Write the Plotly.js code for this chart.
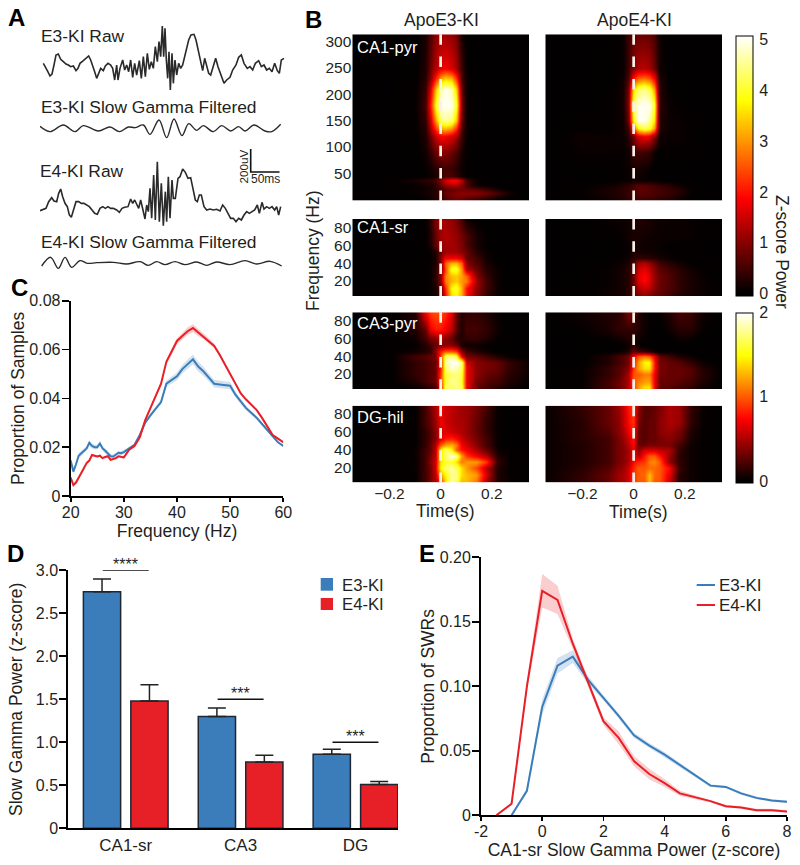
<!DOCTYPE html>
<html><head><meta charset="utf-8">
<script src="https://cdn.plot.ly/plotly-3.0.1.min.js"></script>
<style>html,body{margin:0;padding:0;background:#fff}</style></head>
<body><div id="chart" style="width:800px;height:865px"></div>
<script>
// Panel A: samples and amplitudes (arbitrary ADC counts)
const e3RawT=[130,136,142,150,156,162,168,175,182,190,198,205,212,220,228,234,240,250,258,266,272,278,284,290,296,302,310,316,324,332,338,344,350,354,360,368,374,380,386,392,398,404,410,418,424,430,436,442,448,454,460,466,472,477,482,487,491,495,499,503,507,511,516,520,525,530,536,542,548,554,560,566,573,582,588,595,602,608,614,620,626,632,640,647,654,662,672,680,690,698,708,716,724,732,742,750,758,766,776,784,792,800,808,816,824,832,838,844,852];
const e3RawV=[0,-10,-22,-38,-32,-5,25,28,12,5,-2,-5,-10,-8,-22,-15,0,8,15,22,10,-5,-25,-45,-32,-15,-22,-8,0,-5,-15,-50,-5,-50,-15,10,-20,-5,-25,10,-42,0,-35,8,-45,20,-40,30,-18,5,-15,50,5,65,20,112,20,105,10,-45,35,-80,30,-60,10,-35,0,-15,-5,20,40,70,85,87,70,40,5,-22,15,-5,-30,-35,-5,15,-10,-35,-60,-50,-42,-20,-5,18,25,0,-15,-10,-20,0,8,-10,-5,-20,-15,-25,0,-22,-30,10,15];
const e3FiltT=[120,150,190,225,250,295,330,358,385,405,430,450,477,500,522,546,566,590,610,640,665,692,716,735,762,795,815,842];
const e3FiltV=[6,-10,10,-10,8,-8,4,-10,4,2,10,-18,25,-28,28,-22,14,-6,8,-10,8,-8,5,-8,10,-8,-10,12];
const e4RawT=[120,130,138,146,155,162,170,176,182,188,195,202,208,214,220,228,236,244,252,260,268,276,284,292,300,308,316,324,332,340,350,358,366,374,384,392,398,404,410,416,422,428,435,440,445,450,455,461,466,472,478,484,490,496,500,505,510,516,520,526,534,540,548,556,564,572,578,586,592,598,604,612,620,630,640,650,660,668,676,684,692,700,708,716,724,732,740,748,756,764,772,778,786,792,800,808,816,824,830,836,842];
const e4RawV=[-7,-3,0,20,32,22,20,45,58,35,15,5,-20,-27,-5,20,20,15,15,10,5,-5,-15,-18,0,5,0,5,0,0,-5,-12,0,3,5,28,15,25,10,0,25,0,-32,10,-10,60,-30,100,-35,140,-40,75,-52,50,-40,95,-30,85,30,30,90,95,118,108,90,92,60,25,20,40,40,5,-5,-2,-5,-3,-8,10,0,-15,-30,-30,-40,-30,-35,-20,-10,-15,-10,-5,10,-15,18,-2,5,0,5,-5,5,-20,5];
const e4FiltT=[125,152,175,195,215,240,262,290,340,380,420,445,470,495,525,555,590,620,650,690,735,770,810,845];
const e4FiltV=[-8,18,-15,18,-12,8,0,2,3,-2,5,-6,5,-4,5,-4,4,-6,4,-4,8,-2,6,-8];

// Panel B: time (s), frequency (Hz), z-scored power
const timeS=[-.34,-.2,-.1,-.06,-.04,-.02,0,.02,.04,.06,.08,.1,.14,.18,.22,.27,.34];
const pyrHz=[3,12,20,28,36,45,60,90,120,135,150,180,210,230,250,310];
const lfpHz=[5,12,20,26,33,40,46,52,60,70,88];
const e3Pyr=[
[0,0,0,.08,.15,.25,.4,.6,.75,.8,.75,.65,.5,.3,.08,0,0],
[0,0,.08,.15,.2,.3,.5,.75,.9,1,1.05,1.05,1,.85,.55,.15,0],
[0,0,.08,.15,.2,.3,.45,.65,.75,.8,.85,.85,.7,.5,.2,.03,0],
[0,0,.08,.15,.2,.35,.7,1.1,1.25,1.25,1,.55,.15,.05,0,0,0],
[0,.03,.2,.35,.4,.55,1,1.6,1.9,1.9,1.4,.55,.08,0,0,0,0],
[0,0,.02,.05,.1,.2,.4,.55,.55,.4,.2,.05,0,0,0,0,0],
[0,0,0,.05,.15,.3,.45,.5,.45,.3,.12,.05,0,0,0,0,0],
[0,0,.01,.15,.4,.75,1,1,.8,.55,.2,.03,0,0,0,0,0],
[0,0,.02,.25,.8,1.4,1.8,1.8,1.6,1.2,.5,.05,0,0,0,0,0],
[0,0,.05,.3,1.2,2.2,3.1,3.3,3,2.2,.6,.1,0,0,0,0,0],
[0,0,.05,.4,1.5,3,4.3,4.6,4.4,3.3,.8,.1,0,0,0,0,0],
[0,0,.05,.5,2,3.8,5,5,5,4,1,.1,0,0,0,0,0],
[0,0,.05,.4,1.6,3.2,4.6,5,4.7,3.4,.8,.1,0,0,0,0,0],
[0,0,.03,.3,1,2,3,3.4,3.2,2.2,.6,.1,0,0,0,0,0],
[0,0,.02,.25,.8,1.3,1.7,1.8,1.6,1.2,.5,.05,0,0,0,0,0],
[0,0,.02,.2,.6,1,1.2,1.2,1.1,.9,.2,.02,0,0,0,0,0]];
const e4Pyr=[
[0,.03,.14,.2,.28,.35,.42,.5,.5,.42,.42,.35,.28,.14,.03,0,0],
[0,.07,.2,.28,.35,.42,.55,.63,.63,.63,.55,.5,.42,.28,.07,0,0],
[0,.07,.2,.28,.35,.42,.55,.7,.7,.63,.55,.5,.42,.28,.07,.03,0],
[0,.04,.14,.2,.28,.35,.5,.63,.63,.55,.5,.42,.28,.14,.04,0,0],
[0,0,.03,.05,.1,.1,.15,.1,.1,.1,.05,.02,0,0,0,0,0],
[0,0,.02,.03,.05,.1,.15,.15,.1,.05,.02,0,0,0,0,0,0],
[0,.02,.03,.05,.08,.1,.2,.2,.15,.1,.02,0,0,0,0,0,0],
[0,.08,.08,.08,.08,.15,.45,.5,.45,.35,.1,.03,.05,.05,.02,0,0],
[0,.12,.1,.1,.12,.3,.9,1.6,1.8,1.6,1,.15,.1,.1,.05,0,0],
[0,.05,.05,.1,.15,.5,2.5,3.8,4.2,4,3,.3,.1,.1,.05,0,0],
[0,.02,.05,.1,.15,.8,3.8,5,5,4.6,3.6,.3,.1,.1,.03,0,0],
[0,0,.05,.1,.2,1,4.3,5,5,5,4,.35,.08,.05,0,0,0],
[0,0,.03,.1,.2,.9,3.5,4.3,4.5,4.2,3,.3,.05,0,0,0,0],
[0,0,.02,.08,.15,.6,2,2.6,2.7,2.5,1.8,.25,0,0,0,0,0],
[0,0,.02,.05,.1,.45,1,1.3,1.35,1.2,.8,.15,0,0,0,0,0],
[0,0,0,.05,.12,.45,.75,.8,.8,.75,.55,.12,0,0,0,0,0]];
const e3Sr=[
[0,0,.02,.05,.1,.2,.5,2,3.6,3.8,3.2,2,1,.4,.1,0,0],
[0,0,.02,.05,.1,.2,.6,2.2,3.8,4,3.2,2,1.1,.5,.1,0,0],
[0,0,.02,.05,.1,.3,1,2.8,3.2,3.4,3,2.8,1.2,.5,.1,0,0],
[0,0,.02,.05,.1,.3,1,2.8,3.3,3.4,3.1,2.6,1,.4,.1,0,0],
[0,0,.02,.05,.1,.3,.8,2.4,4,4,3,1.3,.8,.3,.1,0,0],
[0,0,.02,.05,.1,.2,.8,2.6,3.2,3.2,2.6,1,.6,.2,.05,0,0],
[0,0,0,.02,.08,.2,1,1.8,1.8,1.8,1.6,.8,.5,.15,.02,0,0],
[0,0,0,.02,.08,.25,.8,1.2,1.2,1.2,1,.8,.3,.1,0,0,0],
[0,0,0,.05,.25,.7,1.1,1.2,1.2,1.1,.9,.6,.2,.05,0,0,0],
[0,0,0,.05,.25,.75,1.2,1.3,1.2,1.1,.85,.6,.2,.05,0,0,0],
[0,0,0,.05,.35,.9,1.2,1.2,1.1,.9,.55,.15,.03,0,0,0,0]];
const e4Sr=[
[0,.02,.1,.15,.2,.3,.6,1,1.2,1,.8,.7,.5,.3,.2,.1,.02],
[0,.02,.1,.15,.2,.3,.7,1.3,1.5,1.4,1,.8,.6,.35,.2,.1,.02],
[0,.02,.08,.15,.2,.3,.8,1.6,1.9,1.6,1.1,.8,.6,.35,.2,.1,.02],
[0,.02,.08,.15,.2,.3,.8,1.7,1.9,1.6,1.1,.8,.6,.35,.2,.08,.02],
[0,.02,.08,.15,.2,.3,.7,1.5,1.7,1.4,1,.7,.5,.3,.15,.05,0],
[0,0,.05,.1,.15,.25,.6,1.2,1.3,1.1,.8,.5,.3,.15,.05,.02,0],
[0,0,.03,.05,.1,.15,.3,.4,.4,.35,.3,.2,.1,.05,.02,0,0],
[0,0,.01,.03,.05,.1,.25,.2,.15,.15,.12,.1,.05,.03,0,0,0],
[0,0,.02,.03,.05,.1,.2,.15,.1,.1,.1,.08,.05,.03,.02,0,0],
[0,.02,.03,.05,.1,.15,.2,.2,.15,.15,.12,.1,.1,.1,.08,.03,0],
[0,.02,.08,.1,.12,.15,.2,.25,.25,.2,.15,.12,.1,.1,.08,.05,0]];
const e3Ca3=[
[0,0,.03,.1,.15,.2,.7,1.7,1.7,1.75,1.7,.7,.3,.2,.12,.05,0],
[0,0,.1,.2,.25,.3,.9,1.6,1.8,1.75,1.6,.7,.35,.25,.2,.1,.02],
[0,0,.15,.2,.25,.3,.9,1.6,1.7,1.75,1.65,.7,.4,.3,.25,.12,.05],
[0,0,.15,.2,.25,.3,.8,1.7,1.9,1.85,1.7,.7,.4,.35,.3,.15,.05],
[0,0,.15,.2,.25,.3,.7,1.8,2,2,1.8,.6,.4,.35,.3,.15,.05],
[0,0,.2,.25,.3,.35,.9,1.7,1.8,1.6,.7,.35,.3,.2,.1,.03,0],
[0,0,.05,.1,.15,.4,.8,1,1,.9,.4,.2,.1,.05,0,0,0],
[0,0,.02,.1,.2,.3,.4,.4,.4,.3,.1,.05,.05,.02,0,0,0],
[0,0,.05,.2,.35,.4,.5,.4,.3,.15,.1,.15,.15,.1,.02,0,0],
[0,0,.1,.3,.7,.8,.8,.7,.55,.25,.1,.2,.2,.15,.05,0,0],
[0,0,.1,.7,.9,.95,.95,.85,.65,.3,.1,.15,.15,.1,.03,0,0]];
const e4Ca3=[
[0,.02,.2,.3,.4,.5,.9,1.2,1.4,1.4,.7,.3,.25,.2,.15,.05,0],
[0,.02,.2,.3,.4,.5,1,1.1,1.2,1.2,.7,.3,.3,.25,.2,.1,0],
[0,.02,.15,.25,.35,.5,1,1,1.1,1.1,.7,.35,.3,.3,.25,.12,.02],
[0,.02,.15,.25,.3,.4,.9,1.2,1.4,1.4,.8,.35,.3,.3,.25,.1,.02],
[0,0,.1,.2,.25,.35,.8,1.2,1.5,1.5,.8,.35,.3,.25,.15,.05,0],
[0,0,.1,.2,.25,.35,.7,1,1.1,1,.7,.3,.2,.1,.05,0,0],
[0,0,.01,.03,.05,.1,.3,.2,.15,.1,.03,0,0,0,0,0,0],
[0,0,0,0,.02,.05,.15,.02,0,0,0,0,0,0,0,0,0],
[0,0,.03,.05,.08,.1,.1,.05,.02,0,0,0,0,.05,.03,0,0],
[0,.02,.08,.15,.15,.15,.15,.1,.05,.02,0,0,.05,.12,.12,.02,0],
[0,.05,.1,.12,.2,.35,.3,.1,.05,.02,.02,.02,.1,.2,.18,.05,0]];
const e3Dg=[
[0,0,.02,.2,.35,.5,.9,1.4,1.8,1.7,1.3,1.3,1.1,.5,.1,.02,0],
[0,0,.02,.2,.35,.55,1.2,1.5,1.8,1.75,1.4,1.3,1.2,.6,.1,.02,0],
[0,0,.03,.2,.35,.6,1.5,1.7,1.8,1.7,1.4,1.2,.95,.55,.1,.02,0],
[0,0,.03,.2,.4,.6,1.4,1.6,1.6,1.4,1.1,1.2,1.2,.9,.15,.02,0],
[0,0,.03,.2,.35,.55,1.4,1.7,1.95,1.8,1.2,.9,.7,.5,.1,.02,0],
[0,0,.03,.2,.3,.55,1.4,1.7,1.5,1,.8,.7,.5,.3,.05,0,0],
[0,0,.02,.15,.3,.5,1,1.2,1.25,1.1,.7,.6,.4,.2,.03,0,0],
[0,0,.02,.15,.25,.4,.65,.8,.85,.75,.6,.5,.35,.2,.03,0,0],
[0,0,.02,.15,.25,.4,.65,.65,.6,.55,.5,.45,.3,.15,.03,0,0],
[0,0,.02,.2,.3,.45,.7,.6,.55,.5,.5,.45,.3,.15,.03,0,0],
[0,0,.02,.2,.35,.5,.7,.6,.55,.5,.45,.45,.35,.2,.03,0,0]];
const e4Dg=[
[.03,.15,.3,.45,.5,.6,.9,1,1,1.3,1,1,.6,.1,.05,.02,0],
[.03,.15,.3,.45,.5,.6,.9,1,1.05,1.3,1.05,1,.65,.12,.05,.02,0],
[.03,.12,.25,.4,.45,.6,.85,1,1,1.05,1.05,1,.75,.15,.05,.02,0],
[.03,.1,.2,.35,.4,.5,.75,.85,.9,1.1,1.15,1,.4,.15,.05,.02,0],
[.03,.1,.2,.35,.4,.5,.7,.55,.8,1,1,.8,.45,.12,.05,.02,0],
[.03,.1,.2,.35,.4,.5,.7,.4,.6,.6,.6,.55,.5,.15,.05,.02,0],
[.03,.1,.2,.35,.4,.55,.75,.3,.3,.35,.35,.35,.35,.2,.05,.02,0],
[.03,.12,.2,.35,.45,.6,.8,.3,.25,.3,.3,.35,.4,.3,.08,.02,0],
[.03,.12,.25,.4,.5,.7,.85,.3,.25,.3,.3,.4,.45,.35,.1,.02,0],
[.03,.12,.3,.4,.55,.75,.9,.35,.25,.3,.3,.4,.5,.45,.15,.03,0],
[.03,.15,.3,.45,.6,.8,.9,.4,.25,.25,.3,.35,.5,.45,.15,.03,0]];

// Panel C: proportion of samples
const cHz=[20,20.5,21,21.5,22,22.5,23,23.5,24,24.5,25,25.5,26,26.5,27,27.5,28,28.5,29,29.5,30,31,32,33,34,35,36,37,38,39,40,41,42,43,44,45,46,47,48,49,50,51,52,53,54,55,56,57,58,59,60];
const cE3=[.0145,.01,.013,.0165,.0175,.0185,.0195,.0218,.0205,.02,.02,.0215,.0195,.0185,.0175,.0163,.0162,.017,.0177,.0175,.018,.0195,.021,.025,.03,.033,.036,.0385,.046,.0475,.049,.052,.054,.056,.053,.051,.0485,.046,.0457,.0455,.0452,.0415,.0385,.036,.034,.032,.0295,.027,.0245,.022,.0205];
const cE4=[.0075,.0045,.0055,.0075,.0095,.011,.0135,.0145,.0168,.0165,.0162,.0165,.0155,.016,.0163,.0148,.015,.0155,.0163,.016,.0158,.019,.0205,.024,.031,.036,.041,.046,.055,.059,.0635,.0655,.0675,.0688,.067,.0655,.0635,.0615,.058,.054,.05,.046,.042,.0395,.0375,.0352,.032,.0285,.025,.0235,.022];
const cE3Sem=[.001,.001,.001,.001,.001,.001,.001,.001,.001,.001,.001,.001,.001,.001,.001,.001,.0008,.0008,.0008,.0008,.0008,.0005,.0005,.0005,.0006,.0008,.0008,.001,.0012,.0015,.0016,.0018,.002,.002,.002,.0018,.0016,.0016,.0016,.0016,.0015,.0012,.001,.001,.0008,.0008,.0006,.0006,.0006,.0005,.0005];
const cE4Sem=[.0008,.0008,.0008,.0006,.0006,.0006,.0006,.0006,.0005,.0005,.0005,.0005,.0005,.0005,.0005,.0005,.0005,.0005,.0005,.0005,.0005,.0005,.0005,.0005,.0005,.0006,.0008,.0008,.001,.0012,.0012,.0014,.0016,.0016,.0016,.0012,.001,.001,.0008,.0008,.0006,.0005,.0005,.0005,.0005,.0005,.0005,.0005,.0005,.0005,.0005];

// Panel D: slow gamma power by region
const regions=['CA1-sr','CA3','DG'];
const regionPos=[0,1,2];
const dE3=[2.75,1.30,.86];
const dE4=[1.48,.77,.51];
const dE3Err=[.15,.10,.06];
const dE4Err=[.19,.08,.035];
const sigLabels=['****','***','***'];
const sigLevels=[3.0,1.5,1.0];

// Panel E: proportion of SWRs
const eZ=[-1.5,-1,-.5,0,.5,1,1.5,2,2.5,3,3.5,4,4.5,5,5.5,6,6.5,7,7.5,8];
const eE3=[null,0,.019,.084,.116,.123,.105,.091,.077,.062,.054,.047,.039,.031,.023,.022,.017,.0135,.0115,.0105];
const eE4=[0,.009,.10,.174,.167,.133,.103,.073,.06,.042,.032,.025,.017,.014,.011,.007,.006,.004,.004,.003];
const eE3Sem=[null,0,.002,.006,.006,.005,.003,.002,.002,.002,.002,.002,.0015,.0015,.001,.001,.001,.001,.001,.001];
const eE4Sem=[0,.001,.004,.013,.011,.004,.003,.003,.005,.004,.004,.003,.002,.0015,.001,.001,.001,.001,.001,.001];

const BLUE='#3b7dba', RED='#e71f26', INK='#231f20';
const FF='"Liberation Sans", Arial, sans-serif';
const W=800,H=865;
const xd=(a,b)=>[a/W,b/W], yd=(a,b)=>[1-b/H,1-a/H];
const hot=[[0,'#000000'],[.02,'#050000'],[.375,'#ff0000'],[.75,'#ffff00'],[1,'#ffffff']];

const layout={width:W,height:H,autosize:false,margin:{l:0,r:0,t:0,b:0,pad:0},paper_bgcolor:'#fff',plot_bgcolor:'#fff',
  font:{family:FF,color:INK,size:16},showlegend:false,barmode:'group',bargap:.174,bargroupgap:.215,
  coloraxis:{cmin:-.045,cmax:5.065,colorscale:hot,colorbar:{x:736.3/W,xanchor:'left',xpad:0,ypad:0,y:1-296/H,yanchor:'bottom',len:(296-35.7)/H,lenmode:'fraction',thickness:17,outlinecolor:'#000',outlinewidth:1,tickvals:[0,1,2,3,4,5],ticks:'outside',ticklen:3,tickcolor:'rgba(0,0,0,0)',tickfont:{size:16,color:INK}}},
  coloraxis2:{cmin:-.02,cmax:2,colorscale:hot,colorbar:{x:736.3/W,xanchor:'left',xpad:0,ypad:0,y:1-482.7/H,yanchor:'bottom',len:(482.7-312.7)/H,lenmode:'fraction',thickness:17,outlinecolor:'#000',outlinewidth:1,tickvals:[0,1,2],ticks:'outside',ticklen:3,tickcolor:'rgba(0,0,0,0)',tickfont:{size:16,color:INK}}},
  annotations:[],shapes:[]};
const traces=[];
let axN=0;
function axes(x0,x1,y0,y1,xo,yo){
  axN++; const s=axN===1?'':axN;
  layout['xaxis'+s]=Object.assign({domain:xd(x0,x1),anchor:'y'+s,fixedrange:true,zeroline:false,showgrid:false,automargin:false},xo);
  layout['yaxis'+s]=Object.assign({domain:yd(y0,y1),anchor:'x'+s,fixedrange:true,zeroline:false,showgrid:false,automargin:false},yo);
  return {x:'x'+s,y:'y'+s};
}
function note(text,x,y,size,o){
  layout.annotations.push(Object.assign({xref:'paper',yref:'paper',x:x/W,y:1-y/H,text:text,showarrow:false,xanchor:'left',yanchor:'middle',borderpad:0,borderwidth:0,font:{size:size,color:INK}},o||{}));
}

// ---- Panel A
const hidden={visible:false};
function wave(t,v,x0,x1,y0,y1,yr,w){
  const a=axes(x0,x1,y0,y1,Object.assign({range:[120,855]},hidden),Object.assign({range:yr},hidden));
  traces.push({type:'scatter',mode:'lines',x:t,y:v,xaxis:a.x,yaxis:a.y,showlegend:false,hoverinfo:'skip',line:{color:'#2a2a2a',width:w.w,shape:w.s,smoothing:1}});
}
wave(e3RawT,e3RawV,40,285,20,95,[-95,130],{w:1.6,s:'linear'});
wave(e3FiltT,e3FiltV,40,285,115,145,[-50,40],{w:1.4,s:'spline'});
wave(e4RawT,e4RawV,40,285,155,235,[-80,160],{w:1.6,s:'linear'});
wave(e4FiltT,e4FiltV,40,285,250,275,[-35,40],{w:1.4,s:'spline'});
note('E3-KI Raw',41,36,17.4); note('E3-KI Slow Gamma Filtered',41,106.7,17.4);
note('E4-KI Raw',39.5,171,17.4); note('E4-KI Slow Gamma Filtered',41,242,17.4);
layout.shapes.push({type:'path',xref:'paper',yref:'paper',path:`M ${250.7/W} ${1-149/H} L ${250.7/W} ${1-172/H} L ${279.5/W} ${1-172/H}`,line:{color:'#111',width:1.6}});
note('200uV',242.5,166,11.7,{textangle:-90,xanchor:'center'});
note('50ms',251,179,12);

// ---- Panel B
const tickF={size:15.5,color:INK};
function heat(z,hz,col,row,ca,showX){
  const xs=col===0?[352.3,529]:[545.3,722];
  const ys=[[34.3,202.3],[219,296],[312.3,389],[405.7,482.3]][row];
  const yo=row===0?{range:[-5,314],tickvals:[50,100,150,200,250,300]}:{range:[3.2,89.3],tickvals:[20,40,60,80]};
  const a=axes(xs[0],xs[1],ys[0],ys[1],
    {range:[-.345,.345],tickvals:showX?[-.2,0,.2]:[],ticktext:showX?['\u22120.2','0','0.2']:[],ticks:'',showticklabels:!!showX,tickfont:tickF,showline:false},
    Object.assign({ticks:'',showticklabels:col===0,tickfont:tickF,showline:false},yo));
  traces.push({type:'heatmap',x:timeS,y:hz,z:z,coloraxis:ca,xaxis:a.x,yaxis:a.y,zsmooth:'best',showlegend:false,hoverinfo:'skip'});
  layout.shapes.push({type:'line',xref:a.x,yref:a.y+' domain',x0:0,x1:0,y0:1,y1:0,line:{color:'#f7f1e8',width:2.7,dash:'10.5px,11.8px'}});
}
heat(e3Pyr,pyrHz,0,0,'coloraxis'); heat(e4Pyr,pyrHz,1,0,'coloraxis');
heat(e3Sr,lfpHz,0,1,'coloraxis'); heat(e4Sr,lfpHz,1,1,'coloraxis');
heat(e3Ca3,lfpHz,0,2,'coloraxis2'); heat(e4Ca3,lfpHz,1,2,'coloraxis2');
heat(e3Dg,lfpHz,0,3,'coloraxis2',true); heat(e4Dg,lfpHz,1,3,'coloraxis2',true);
note('ApoE3-KI',441,20,17.5,{xanchor:'center'}); note('ApoE4-KI',634,20,17.5,{xanchor:'center'});
note('CA1-pyr',357,46.7,16.5,{font:{size:16.5,color:'#fff'}});
note('CA1-sr',357,227,16.5,{font:{size:16.5,color:'#fff'}});
note('CA3-pyr',357,322.7,16.5,{font:{size:16.5,color:'#fff'}});
note('DG-hil',357,417,16.5,{font:{size:16.5,color:'#fff'}});
note('Frequency (Hz)',313,251,17.5,{textangle:-90,xanchor:'center'});
note('Z-score Power',782,252,17.5,{textangle:90,xanchor:'center'});
note('Time(s)',445,510.7,17.5,{xanchor:'center'}); note('Time(s)',638,511.7,17.5,{xanchor:'center'});

// ---- shaded mean +/- SEM helper
function band(a,x,m,s,color,rgba,name){
  const px=[],up=[],lo=[];
  x.forEach((v,i)=>{ if(m[i]!==null){px.push(v);up.push(m[i]+s[i]);lo.push(Math.max(0,m[i]-s[i]));}});
  traces.push({type:'scatter',mode:'lines',x:px.concat(px.slice().reverse()),y:up.concat(lo.reverse()),fill:'toself',fillcolor:rgba,line:{width:0},xaxis:a.x,yaxis:a.y,showlegend:false,hoverinfo:'skip'});
  traces.push({type:'scatter',mode:'lines',name:name,x:x,y:m,xaxis:a.x,yaxis:a.y,line:{color:color,width:2}});
}
const axLine={showline:true,linecolor:'#000',linewidth:2,ticks:'outside',tickcolor:'#000',tickwidth:1.6,tickfont:{size:16,color:INK}};

// ---- Panel C
const aC=axes(70.7,283.3,300.7,496,
  Object.assign({},axLine,{range:[20,60],tickvals:[20,30,40,50,60],ticklen:4,ticklabelstandoff:-3,title:{text:'Frequency (Hz)',font:{size:17.5,color:INK},standoff:0}}),
  Object.assign({},axLine,{range:[0,.08],tickvals:[0,.02,.04,.06,.08],ticktext:['0','0.02','0.04','0.06','0.08'],ticklen:7,ticklabelstandoff:-2,title:{text:'Proportion of Samples',font:{size:17.5,color:INK},standoff:0}}));
band(aC,cHz,cE3,cE3Sem,BLUE,'rgba(59,125,186,.22)','E3-KI');
band(aC,cHz,cE4,cE4Sem,RED,'rgba(231,31,38,.22)','E4-KI');

// ---- Panel D
const aD=axes(68.3,398,570.3,828.3,
  Object.assign({},axLine,{range:[-.5,2.37],tickvals:regionPos,ticktext:regions,ticks:'',tickfont:{size:17,color:INK}}),
  Object.assign({},axLine,{range:[0,3],tickvals:[0,.5,1,1.5,2,2.5,3],ticktext:['0','0.5','1.0','1.5','2.0','2.5','3.0'],ticklen:7,ticklabelstandoff:-2,title:{text:'Slow Gamma Power (z-score)',font:{size:17.5,color:INK},standoff:9}}));
const bar=(name,y,err,col)=>({type:'bar',name:name,x:regionPos,y:y,xaxis:aD.x,yaxis:aD.y,marker:{color:col,line:{color:'#1c2733',width:1.5}},cliponaxis:false,
  error_y:{type:'data',symmetric:false,array:err,arrayminus:[0,0,0],color:'#222',thickness:1.5,width:9}});
traces.push(bar('E3-KI',dE3,dE3Err,BLUE),bar('E4-KI',dE4,dE4Err,RED));
regionPos.forEach((p,i)=>{
  traces.push({type:'scatter',mode:'lines',x:[p-.2,p+.2],y:[sigLevels[i],sigLevels[i]],xaxis:aD.x,yaxis:aD.y,cliponaxis:false,showlegend:false,hoverinfo:'skip',line:{color:'#111',width:1.4}});
  layout.annotations.push({xref:aD.x,yref:aD.y,x:p,y:sigLevels[i],text:sigLabels[i],showarrow:false,yanchor:'bottom',yshift:-4,borderpad:0,font:{size:16,color:INK}});
});
// legend key D
[[578,590.7,BLUE,'E3-KI',585],[598,610,RED,'E4-KI',604]].forEach(k=>{
  layout.shapes.push({type:'rect',xref:'paper',yref:'paper',x0:320.7/W,x1:333/W,y0:1-k[1]/H,y1:1-k[0]/H,fillcolor:k[2],line:{width:0}});
  note(k[3],341.7,k[4],16.7);
});

// ---- Panel E
const aE=axes(481,787,557.3,815.3,
  Object.assign({},axLine,{range:[-2,8],tickvals:[-2,0,2,4,6,8],ticktext:['-2','0','2','4','6','8'],ticklen:4,ticklabelstandoff:-4,title:{text:'CA1-sr Slow Gamma Power (z-score)',font:{size:17.5,color:INK},standoff:0}}),
  Object.assign({},axLine,{range:[0,.2],tickvals:[0,.05,.1,.15,.2],ticktext:['0','0.05','0.10','0.15','0.20'],ticklen:7,ticklabelstandoff:-2,title:{text:'Proportion of SWRs',font:{size:17.5,color:INK},standoff:1}}));
band(aE,eZ,eE3,eE3Sem,BLUE,'rgba(59,125,186,.22)','E3-KI');
band(aE,eZ,eE4,eE4Sem,RED,'rgba(231,31,38,.22)','E4-KI');
// legend key E
[[585,BLUE,'E3-KI'],[605,RED,'E4-KI']].forEach(k=>{
  layout.shapes.push({type:'line',xref:'paper',yref:'paper',x0:696.7/W,x1:715/W,y0:1-k[0]/H,y1:1-k[0]/H,line:{color:k[1],width:2}});
  note(k[2],719,k[0],17);
});

// ---- Panel letters
[['A',8,17],['B',305,19],['C',11,287],['D',7,553],['E',419,553]].forEach(l=>note('<b>'+l[0]+'</b>',l[1],l[2],24,{font:{size:24,color:'#000'}}));

Plotly.newPlot('chart',traces,layout,{staticPlot:true,displayModeBar:false});
</script></body></html>
